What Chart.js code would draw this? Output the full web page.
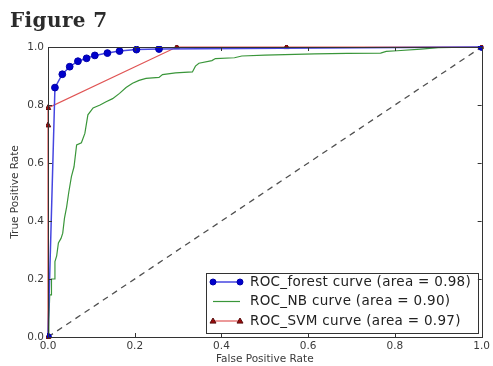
<!DOCTYPE html>
<html>
<head>
<meta charset="utf-8">
<script src="https://cdn.jsdelivr.net/npm/chart.js@4/dist/chart.umd.min.js"></script>
<style>
  html, body { margin: 0; padding: 0; background: #ffffff; }
  #wrap { position: relative; width: 493px; height: 366px; }
  canvas { display: block; }
</style>
</head>
<body>
<div id="wrap"><canvas id="c" width="493" height="366"></canvas></div>
<script>
// ---- data ----
const figureTitle = "Figure 7";
const xAxisTitle = "False Positive Rate";
const yAxisTitle = "True Positive Rate";
const tickValues = [0.0, 0.2, 0.4, 0.6, 0.8, 1.0];

const forestLabel = "ROC_forest curve (area = 0.98)";
const forestFpr = [0.0, 0.016, 0.033, 0.050, 0.069, 0.089, 0.108, 0.137, 0.165, 0.204, 0.256, 1.0];
const forestTpr = [0.0, 0.860, 0.906, 0.932, 0.951, 0.961, 0.971, 0.979, 0.986, 0.991, 0.993, 1.0];

const nbLabel = "ROC_NB curve (area = 0.90)";
const nbFpr = [0.0, 0.002, 0.004, 0.008, 0.008, 0.014, 0.016, 0.020, 0.024, 0.030, 0.034, 0.038, 0.043, 0.048, 0.054, 0.060, 0.066, 0.077, 0.085, 0.092, 0.104, 0.120, 0.134, 0.149, 0.165, 0.180, 0.195, 0.210, 0.226, 0.256, 0.264, 0.294, 0.333, 0.340, 0.348, 0.378, 0.386, 0.430, 0.447, 0.500, 0.615, 0.690, 0.767, 0.780, 0.805, 0.860, 0.900, 1.0];
const nbTpr = [0.0, 0.060, 0.145, 0.145, 0.200, 0.200, 0.260, 0.280, 0.324, 0.340, 0.358, 0.410, 0.449, 0.500, 0.553, 0.587, 0.662, 0.670, 0.702, 0.766, 0.790, 0.800, 0.811, 0.822, 0.840, 0.860, 0.875, 0.885, 0.892, 0.895, 0.905, 0.911, 0.914, 0.934, 0.944, 0.953, 0.960, 0.963, 0.969, 0.972, 0.976, 0.978, 0.979, 0.985, 0.987, 0.993, 0.998, 1.0];

const svmLabel = "ROC_SVM curve (area = 0.97)";
const svmFpr = [0.0, 0.0, 0.0, 0.297, 0.550, 1.0];
const svmTpr = [0.0, 0.73, 0.79, 1.0, 1.0, 1.0];

const chanceFpr = [0.0, 1.0];
const chanceTpr = [0.0, 1.0];

const toPoints = (xs, ys) => xs.map((x, i) => ({ x: x, y: ys[i] }));

// ---- plugins ----
const framePlugin = {
  id: 'frame',
  afterDatasetsDraw(chart) {
    const { ctx, chartArea: a, scales } = chart;
    ctx.save();
    ctx.strokeStyle = '#333333';
    ctx.lineWidth = 1;
    tickValues.forEach(v => {
      const px = Math.round(scales.x.getPixelForValue(v)) + 0.5;
      const py = Math.round(scales.y.getPixelForValue(v)) + 0.5;
      ctx.beginPath();
      ctx.moveTo(px, a.bottom); ctx.lineTo(px, a.bottom - 4);
      ctx.moveTo(px, a.top); ctx.lineTo(px, a.top + 4);
      ctx.moveTo(a.left, py); ctx.lineTo(a.left + 4, py);
      ctx.moveTo(a.right, py); ctx.lineTo(a.right - 4, py);
      ctx.stroke();
    });
    ctx.strokeRect(Math.round(a.left) + 0.5, Math.round(a.top) + 0.5,
                   Math.round(a.right - a.left), Math.round(a.bottom - a.top));
    ctx.restore();
  }
};

const titlePlugin = {
  id: 'figTitle',
  afterDraw(chart) {
    const ctx = chart.ctx;
    ctx.save();
    ctx.fillStyle = '#2b2b2b';
    ctx.font = 'bold 20px "DejaVu Serif", "Liberation Serif", serif';
    ctx.letterSpacing = '0.4px';
    ctx.textBaseline = 'alphabetic';
    ctx.textAlign = 'left';
    ctx.fillText(figureTitle, 10, 27);
    ctx.restore();
  }
};

const legendPlugin = {
  id: 'boxLegend',
  afterDraw(chart) {
    const { ctx, chartArea: a } = chart;
    const boxL = a.left + 158, boxR = a.right - 4;
    const boxT = a.top + 226, boxB = a.bottom - 4;
    ctx.save();
    ctx.fillStyle = '#ffffff';
    ctx.fillRect(boxL, boxT, boxR - boxL, boxB - boxT);
    ctx.strokeStyle = '#333333';
    ctx.lineWidth = 1;
    ctx.strokeRect(Math.round(boxL) + 0.5, Math.round(boxT) + 0.5, Math.round(boxR - boxL), Math.round(boxB - boxT));
    const items = chart.data.datasets.filter(d => d.legendRank !== undefined)
      .sort((p, q) => p.legendRank - q.legendRank);
    ctx.font = '13.5px "DejaVu Sans", sans-serif';
    ctx.letterSpacing = '0.3px';
    ctx.textBaseline = 'middle';
    ctx.textAlign = 'left';
    items.forEach((d, i) => {
      const y = boxT + 9 + i * 19.5;
      const x0 = boxL + 7, x1 = boxL + 34;
      ctx.strokeStyle = d.borderColor;
      ctx.lineWidth = d.borderWidth;
      ctx.beginPath(); ctx.moveTo(x0, y); ctx.lineTo(x1, y); ctx.stroke();
      if (d.legendMarker) {
        [x0, x1].forEach(mx => {
          ctx.fillStyle = d.pointBackgroundColor;
          ctx.strokeStyle = d.pointBorderColor;
          ctx.lineWidth = 1;
          ctx.beginPath();
          if (d.pointStyle === 'triangle') {
            const r = 3;
            ctx.moveTo(mx, y - r); ctx.lineTo(mx + r, y + r * 0.7); ctx.lineTo(mx - r, y + r * 0.7); ctx.closePath();
          } else {
            ctx.arc(mx, y, 3, 0, Math.PI * 2);
          }
          ctx.fill(); ctx.stroke();
        });
      }
      ctx.fillStyle = '#222222';
      ctx.fillText(d.label, boxL + 44, y);
    });
    ctx.restore();
  }
};

const axisFont = { family: '"DejaVu Sans", sans-serif', size: 10.5 };

new Chart(document.getElementById('c'), {
  type: 'line',
  data: {
    datasets: [
      {
        label: 'chance', data: toPoints(chanceFpr, chanceTpr),
        borderColor: '#505050', borderWidth: 1.3, borderDash: [6, 5], pointRadius: 0, tension: 0, order: 4
      },
      {
        label: nbLabel, data: toPoints(nbFpr, nbTpr), legendRank: 1, legendMarker: false,
        borderColor: '#3a963a', borderWidth: 1.2, pointRadius: 0, tension: 0, order: 3
      },
      {
        label: svmLabel, data: toPoints(svmFpr, svmTpr), legendRank: 2, legendMarker: true,
        borderColor: '#e05555', borderWidth: 1.2, pointStyle: 'triangle', pointRadius: 3.2,
        pointBackgroundColor: '#9a0a0a', pointBorderColor: '#5a1010', pointBorderWidth: 1,
        tension: 0, clip: 2, order: 2
      },
      {
        label: forestLabel, data: toPoints(forestFpr, forestTpr), legendRank: 0, legendMarker: true,
        borderColor: '#4646e0', borderWidth: 1.5, pointStyle: 'circle', pointRadius: 3.4,
        pointBackgroundColor: '#0000cc', pointBorderColor: '#0000aa', pointBorderWidth: 1,
        tension: 0, clip: 1, order: 1
      }
    ]
  },
  options: {
    responsive: false,
    animation: false,
    devicePixelRatio: 1,
    layout: { padding: { top: 47, right: 7, left: 0, bottom: 0 } },
    plugins: { legend: { display: false }, tooltip: { enabled: false }, title: { display: false } },
    scales: {
      x: {
        type: 'linear', min: 0, max: 1,
        afterFit(s) { s.height = 29; },
        afterBuildTicks(s) { s.ticks = tickValues.map(v => ({ value: v })); },
        grid: { display: false, drawTicks: false },
        border: { display: false },
        ticks: { font: axisFont, color: '#3a3a3a', padding: 3, maxRotation: 0, callback: v => Number(v).toFixed(1) },
        title: { display: true, text: xAxisTitle, font: axisFont, color: '#3a3a3a', padding: { top: 0, bottom: 0 } }
      },
      y: {
        type: 'linear', min: 0, max: 1,
        afterFit(s) { s.width = 48; },
        afterBuildTicks(s) { s.ticks = tickValues.map(v => ({ value: v })); },
        grid: { display: false, drawTicks: false },
        border: { display: false },
        ticks: { font: axisFont, color: '#3a3a3a', padding: 4, callback: v => Number(v).toFixed(1) },
        title: { display: true, text: yAxisTitle, font: axisFont, color: '#3a3a3a', padding: { top: 9, bottom: 0 } }
      }
    }
  },
  plugins: [framePlugin, legendPlugin, titlePlugin]
});
</script>
</body>
</html>
